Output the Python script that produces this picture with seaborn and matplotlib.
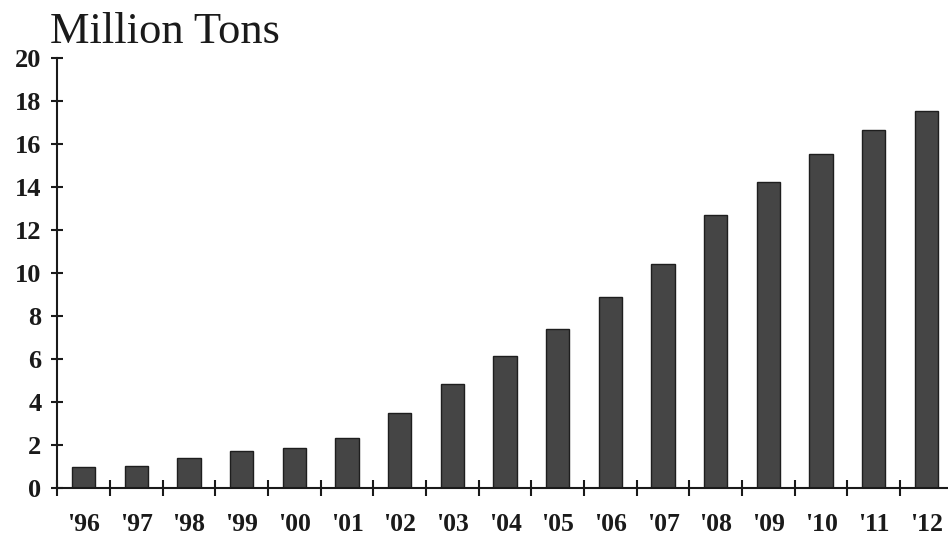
import matplotlib
matplotlib.use("Agg")
import matplotlib.pyplot as plt
import seaborn as sns
import pandas as pd

years = ["'96", "'97", "'98", "'99", "'00", "'01", "'02", "'03", "'04",
         "'05", "'06", "'07", "'08", "'09", "'10", "'11", "'12"]
values = [0.97, 1.01, 1.40, 1.74, 1.85, 2.35, 3.49, 4.82, 6.15,
          7.38, 8.88, 10.43, 12.72, 14.24, 15.55, 16.67, 17.57]
y_ticks = [0, 2, 4, 6, 8, 10, 12, 14, 16, 18, 20]
title = "Million Tons"

sns.set_style("ticks")
plt.rcParams["font.family"] = ["Liberation Serif", "DejaVu Serif"]

df = pd.DataFrame({"year": years, "value": values})

fig = plt.figure(figsize=(9.48, 5.37), dpi=100)
ax = fig.add_axes([0.0605, 0.0912, 0.9444, 0.8002])

sns.barplot(data=df, x="year", y="value", color="#454545", saturation=1,
            width=0.44, edgecolor="#1e1e1e", linewidth=1.0, ax=ax)

ax.set_xlim(-0.5, len(years) - 0.5)
ax.set_ylim(0, 20)
ax.set_yticks(y_ticks)
ax.set_yticklabels([str(t) for t in y_ticks])
ax.set_xlabel("")
ax.set_ylabel("")

# category-boundary ticks on x axis
ax.set_xticks([i + 0.5 for i in range(-1, len(years) - 1)], minor=False)
ax.set_xticklabels([""] * len(years))
ax.set_xticks(range(len(years)), minor=True)
ax.set_xticklabels(years, minor=True)
ax.tick_params(axis="x", which="major", direction="inout", length=11,
               width=1.5, color="#1a1a1a")
ax.tick_params(axis="x", which="minor", length=0, pad=18,
               labelsize=18.5, labelcolor="#1a1a1a")
for lbl in ax.get_xticklabels(minor=True):
    lbl.set_fontweight("bold")

ax.tick_params(axis="y", direction="inout", length=9, width=1.5,
               color="#1a1a1a", pad=7, labelsize=19, labelcolor="#1a1a1a")
for lbl in ax.get_yticklabels():
    lbl.set_fontweight("bold")

for side in ["top", "right"]:
    ax.spines[side].set_visible(False)
for side in ["left", "bottom"]:
    ax.spines[side].set_linewidth(1.5)
    ax.spines[side].set_color("#1a1a1a")

fig.text(50 / 948, 1 - 43.3 / 537, title, fontsize=32, color="#1a1a1a",
         ha="left", va="baseline")

fig.savefig("out.png", dpi=100)
